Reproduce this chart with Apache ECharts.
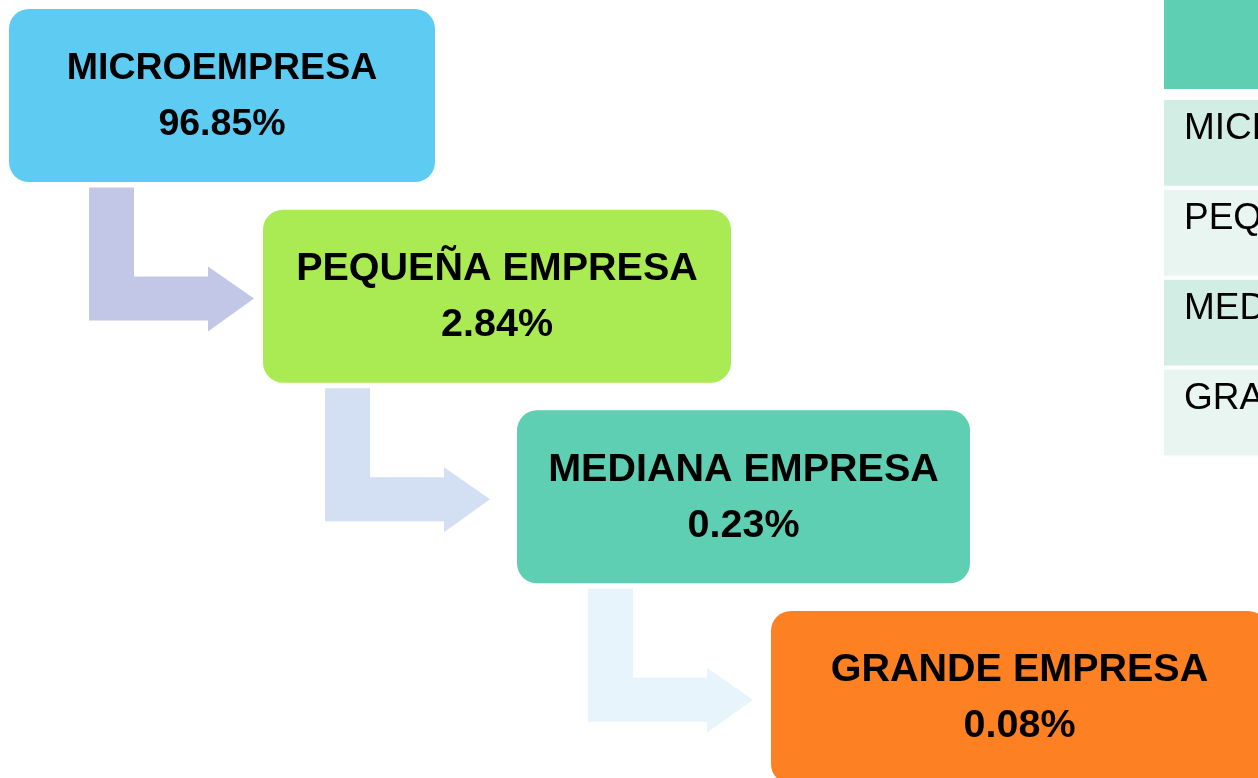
<!DOCTYPE html>
<html>
<head>
<meta charset="utf-8">
<script src="https://cdn.jsdelivr.net/npm/echarts@6.0.0/dist/echarts.min.js"></script>
<style>
  html, body { margin: 0; padding: 0; background: #fff; }
  #main { width: 1258px; height: 778px; }
</style>
</head>
<body>
<div id="main"></div>
<script>
// data
const stageNames = ['MICROEMPRESA', 'PEQUEÑA EMPRESA', 'MEDIANA EMPRESA', 'GRANDE EMPRESA']
const stageShares = [96.85, 2.84, 0.23, 0.08]
const tableRows = ['', 'MICROEMPRESA', 'PEQUEÑA EMPRESA', 'MEDIANA EMPRESA', 'GRANDE EMPRESA']

// layout / styles
const boxWidths = [426, 468, 453, 497]
const boxHeight = 173
const boxFontSizes = [37.5, 39.5, 39.5, 39.5]
const boxColors = ['#5ecbf3', '#aaeb53', '#5ecfb3', '#fd8022']
const arrowColors = ['#c3c7e7', '#d3dff2', '#e8f4fc']
const arrowShift = [80, 62, 71]
const rowColors = ['#5ecfb3', '#d2ede4', '#e9f5f1', '#d2ede4', '#e9f5f1']
const fontFamily = '"Liberation Sans", Arial, sans-serif'

const chart = echarts.init(document.getElementById('main'))

const stepData = stageShares.map((v, i) => ({ name: stageNames[i], value: [i, i, v] }))
const arrowData = stageShares.slice(0, -1).map((v, i) => [i, i])
const rowData = tableRows.map((r, i) => ({ name: r, value: [0, i] }))

const renderArrow = function (params, api) {
  const i = params.dataIndex
  const p = api.coord([api.value(0), api.value(1)])
  const L = p[0] + arrowShift[i]
  const T = p[1] + 178.5
  return {
    type: 'polygon',
    shape: {
      points: [
        [L, T], [L + 45, T], [L + 45, T + 89], [L + 119, T + 89], [L + 119, T + 79],
        [L + 165, T + 111], [L + 119, T + 144], [L + 119, T + 133], [L, T + 133]
      ]
    },
    style: { fill: arrowColors[i] }
  }
}

const renderBox = function (params, api) {
  const i = params.dataIndex
  const p = api.coord([api.value(0), api.value(1)])
  const w = boxWidths[i]
  return {
    type: 'group',
    children: [
      {
        type: 'rect',
        shape: { x: p[0], y: p[1], width: w, height: boxHeight, r: 20 },
        style: { fill: boxColors[i] }
      },
      {
        type: 'text',
        x: p[0] + w / 2,
        y: p[1] + boxHeight / 2 + 1,
        style: {
          text: stageNames[i] + '\n' + api.value(2).toFixed(2) + '%',
          fill: '#000',
          fontSize: boxFontSizes[i],
          fontWeight: 'bold',
          fontFamily: fontFamily,
          lineHeight: 56,
          align: 'center',
          verticalAlign: 'middle'
        }
      }
    ]
  }
}

const renderRow = function (params, api) {
  const i = params.dataIndex
  const c = api.coord([0, i])
  const band = api.size([0, 1])[1]
  let top = c[1] - band / 2
  let bottom = top + band - 4
  if (i === 0) {
    top = -200
    bottom = bottom - 7
  }
  return {
    type: 'group',
    children: [
      {
        type: 'rect',
        shape: { x: c[0], y: top, width: 400, height: bottom - top },
        style: { fill: rowColors[i] }
      },
      {
        type: 'text',
        x: c[0] + 20,
        y: top + 29,
        style: {
          text: tableRows[i],
          fill: '#000',
          fontSize: 37,
          fontFamily: fontFamily,
          align: 'left',
          verticalAlign: 'middle'
        }
      }
    ]
  }
}

chart.setOption({
  animation: false,
  backgroundColor: '#fff',
  grid: [
    { left: 9, top: 9, width: 762, height: 602 },
    { left: 1164, top: 10, width: 400, height: 449.5 }
  ],
  xAxis: [
    { type: 'value', min: 0, max: 3, show: false, gridIndex: 0 },
    { type: 'value', min: 0, max: 1, show: false, gridIndex: 1 }
  ],
  yAxis: [
    { type: 'value', min: 0, max: 3, inverse: true, show: false, gridIndex: 0 },
    { type: 'category', data: tableRows, inverse: true, show: false, gridIndex: 1 }
  ],
  series: [
    {
      type: 'custom',
      xAxisIndex: 0,
      yAxisIndex: 0,
      renderItem: renderArrow,
      data: arrowData,
      silent: true
    },
    {
      type: 'custom',
      xAxisIndex: 0,
      yAxisIndex: 0,
      renderItem: renderBox,
      encode: { x: 0, y: 1 },
      data: stepData,
      silent: true
    },
    {
      type: 'custom',
      xAxisIndex: 1,
      yAxisIndex: 1,
      renderItem: renderRow,
      encode: { x: 0, y: 1 },
      data: rowData,
      silent: true
    }
  ]
})
</script>
</body>
</html>
